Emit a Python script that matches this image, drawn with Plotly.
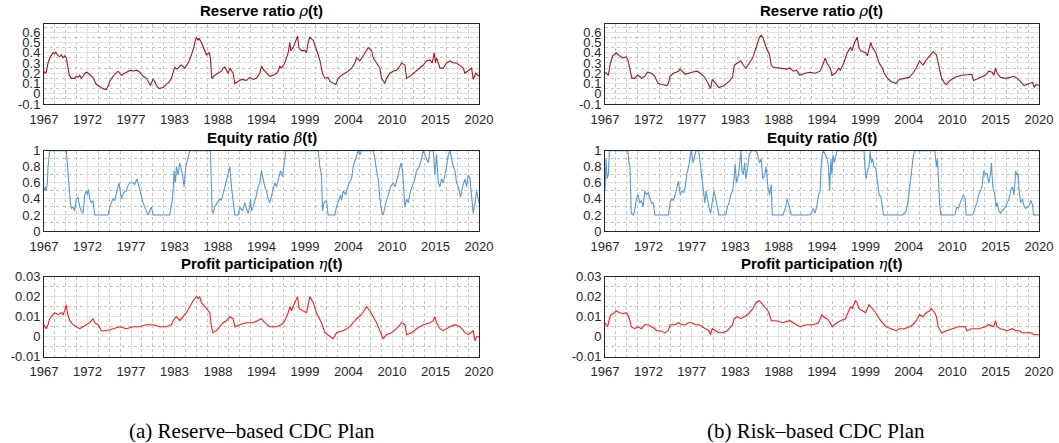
import plotly.graph_objects as go
import numpy as np

# ---------------- data (year, value) ----------------
rho_a = [(1967.0,0.22),(1967.15,0.20),(1967.28,0.21),(1967.49,0.30),(1967.7,0.35),(1967.89,0.38),(1968.1,0.40),(1968.3,0.39),(1968.42,0.41),(1968.6,0.38),(1968.91,0.36),(1969.1,0.38),(1969.32,0.35),(1969.52,0.37),(1969.72,0.35),(1969.93,0.25),(1970.1,0.18),(1970.33,0.15),(1970.74,0.15),(1970.94,0.17),(1971.15,0.16),(1971.35,0.18),(1971.55,0.15),(1971.75,0.17),(1971.96,0.20),(1972.24,0.21),(1972.49,0.19),(1972.77,0.17),(1972.97,0.16),(1973.2,0.12),(1973.38,0.09),(1973.79,0.07),(1974.19,0.05),(1974.6,0.04),(1974.8,0.07),(1975.01,0.12),(1975.2,0.15),(1975.41,0.17),(1975.62,0.19),(1976.02,0.22),(1976.23,0.20),(1976.43,0.18),(1976.83,0.20),(1977.24,0.22),(1977.53,0.23),(1977.85,0.22),(1978.26,0.23),(1978.66,0.21),(1979.07,0.17),(1979.48,0.15),(1979.68,0.12),(1979.96,0.08),(1980.29,0.14),(1980.49,0.12),(1980.7,0.08),(1981.02,0.05),(1981.51,0.06),(1981.91,0.09),(1982.32,0.12),(1982.52,0.15),(1982.73,0.20),(1982.93,0.26),(1983.14,0.24),(1983.34,0.25),(1983.54,0.27),(1983.74,0.28),(1984.15,0.25),(1984.56,0.30),(1984.84,0.35),(1985.09,0.40),(1985.25,0.45),(1985.37,0.50),(1985.57,0.55),(1985.78,0.52),(1985.9,0.54),(1986.18,0.50),(1986.47,0.45),(1986.79,0.38),(1987.12,0.40),(1987.28,0.35),(1987.44,0.15),(1987.81,0.18),(1988.21,0.20),(1988.62,0.22),(1988.82,0.25),(1989.03,0.26),(1989.43,0.20),(1989.64,0.25),(1990.04,0.20),(1990.25,0.10),(1990.65,0.12),(1991.06,0.14),(1991.67,0.13),(1992.07,0.16),(1992.48,0.14),(1992.89,0.15),(1993.29,0.20),(1993.5,0.27),(1993.7,0.24),(1994.11,0.20),(1994.51,0.17),(1994.92,0.18),(1995.33,0.20),(1995.53,0.22),(1995.73,0.27),(1995.94,0.25),(1996.34,0.30),(1996.55,0.35),(1996.75,0.40),(1996.95,0.50),(1997.07,0.42),(1997.36,0.45),(1997.56,0.50),(1997.76,0.55),(1997.89,0.56),(1998.05,0.45),(1998.37,0.42),(1998.78,0.42),(1998.98,0.40),(1999.19,0.50),(1999.39,0.55),(1999.8,0.52),(2000.12,0.45),(2000.41,0.38),(2000.69,0.30),(2000.93,0.20),(2001.22,0.15),(2001.62,0.16),(2001.83,0.12),(2002.23,0.10),(2002.56,0.09),(2002.84,0.15),(2003.25,0.18),(2003.66,0.20),(2004.06,0.22),(2004.47,0.25),(2004.88,0.30),(2005.08,0.35),(2005.49,0.32),(2005.89,0.37),(2006.3,0.42),(2006.5,0.45),(2006.91,0.42),(2007.11,0.35),(2007.52,0.30),(2007.92,0.25),(2008.13,0.15),(2008.33,0.12),(2008.53,0.10),(2008.74,0.15),(2009.14,0.20),(2009.55,0.22),(2009.96,0.23),(2010.36,0.27),(2010.57,0.30),(2010.97,0.28),(2011.18,0.15),(2011.58,0.17),(2011.99,0.20),(2012.4,0.23),(2012.8,0.25),(2013.21,0.28),(2013.61,0.32),(2014.02,0.33),(2014.3,0.30),(2014.55,0.40),(2014.7,0.30),(2014.83,0.35),(2015.04,0.30),(2015.24,0.25),(2015.65,0.25),(2016.05,0.30),(2016.46,0.32),(2016.87,0.30),(2017.27,0.30),(2017.68,0.27),(2018.08,0.25),(2018.29,0.20),(2018.6,0.22),(2018.9,0.23),(2019.1,0.25),(2019.3,0.14),(2019.6,0.20),(2020.0,0.17)]

beta_a = [(1967.0,0.50),(1967.16,0.55),(1967.28,0.50),(1967.41,0.60),(1967.49,0.80),(1967.69,1.0),(1969.72,1.0),(1969.93,0.70),(1970.21,0.35),(1970.33,0.28),(1970.54,0.30),(1970.74,0.25),(1970.94,0.40),(1971.15,0.42),(1971.35,0.30),(1971.55,0.25),(1971.75,0.22),(1971.88,0.35),(1971.96,0.45),(1972.16,0.50),(1972.28,0.45),(1972.41,0.52),(1972.57,0.40),(1972.77,0.35),(1972.97,0.38),(1973.18,0.20),(1974.80,0.20),(1975.01,0.30),(1975.21,0.35),(1975.41,0.40),(1975.62,0.38),(1975.82,0.45),(1976.02,0.55),(1976.14,0.60),(1976.31,0.45),(1976.43,0.40),(1976.71,0.48),(1977.04,0.50),(1977.16,0.55),(1977.44,0.60),(1977.85,0.60),(1978.05,0.58),(1978.34,0.65),(1978.58,0.55),(1978.66,0.50),(1978.87,0.40),(1979.07,0.35),(1979.27,0.30),(1979.48,0.25),(1979.68,0.20),(1980.09,0.30),(1980.29,0.20),(1982.32,0.20),(1982.52,0.30),(1982.65,0.40),(1982.73,0.50),(1982.85,0.75),(1983.01,0.60),(1983.13,0.80),(1983.34,0.70),(1983.54,0.85),(1983.87,0.70),(1984.07,0.55),(1984.27,0.80),(1984.56,0.90),(1984.76,1.0),(1987.28,1.0),(1987.48,0.25),(1987.60,0.22),(1987.81,0.30),(1988.09,0.35),(1988.42,0.40),(1988.62,0.38),(1988.91,0.50),(1989.23,0.60),(1989.64,0.80),(1989.84,0.55),(1990.04,0.40),(1990.25,0.20),(1990.65,0.20),(1990.86,0.30),(1991.18,0.25),(1991.47,0.35),(1991.67,0.28),(1991.87,0.22),(1992.07,0.30),(1992.16,0.40),(1992.28,0.25),(1992.48,0.30),(1992.89,0.45),(1993.09,0.55),(1993.29,0.60),(1993.50,0.75),(1993.70,0.65),(1993.90,0.55),(1994.11,0.50),(1994.31,0.40),(1994.51,0.35),(1994.84,0.50),(1995.12,0.60),(1995.33,0.55),(1995.65,0.70),(1995.81,0.75),(1996.06,0.68),(1996.26,0.80),(1996.34,0.90),(1996.46,1.0),(2000.41,1.0),(2000.61,0.80),(2000.81,0.70),(2000.93,0.25),(2001.10,0.35),(2001.42,0.38),(2001.54,0.30),(2001.62,0.20),(2002.44,0.20),(2002.64,0.30),(2002.97,0.40),(2003.13,0.45),(2003.25,0.38),(2003.45,0.50),(2003.78,0.45),(2003.86,0.50),(2004.19,0.60),(2004.47,0.65),(2004.67,0.80),(2005.00,0.90),(2005.28,1.0),(2005.49,0.95),(2005.69,1.0),(2007.11,1.0),(2007.32,0.90),(2007.52,0.75),(2007.72,0.65),(2007.92,0.40),(2008.13,0.25),(2008.33,0.20),(2008.53,0.30),(2008.94,0.45),(2009.23,0.55),(2009.55,0.60),(2009.75,0.55),(2010.04,0.65),(2010.28,0.75),(2010.49,0.85),(2010.69,0.75),(2010.85,0.50),(2010.97,0.30),(2011.18,0.40),(2011.38,0.35),(2011.66,0.50),(2011.99,0.60),(2012.19,0.65),(2012.39,0.75),(2012.72,0.80),(2013.00,0.90),(2013.21,1.0),(2013.61,0.90),(2013.82,0.85),(2014.02,1.0),(2014.43,1.0),(2014.63,0.70),(2014.83,0.95),(2015.04,0.60),(2015.24,0.55),(2015.44,0.65),(2015.65,0.60),(2016.05,0.80),(2016.26,0.95),(2016.46,1.0),(2016.66,0.90),(2016.87,0.80),(2017.07,0.75),(2017.27,0.60),(2017.48,0.55),(2017.76,0.42),(2018.00,0.55),(2018.29,0.65),(2018.49,0.55),(2018.70,0.70),(2018.90,0.65),(2019.10,0.40),(2019.30,0.22),(2019.50,0.35),(2019.71,0.50),(2020.0,0.35)]

eta_a = [(1967.0,0.006),(1967.16,0.005),(1967.28,0.004),(1967.49,0.006),(1967.69,0.009),(1967.89,0.010),(1968.30,0.012),(1968.71,0.011),(1969.11,0.012),(1969.32,0.011),(1969.52,0.013),(1969.72,0.016),(1969.85,0.012),(1970.13,0.008),(1970.33,0.007),(1970.54,0.006),(1970.94,0.005),(1971.35,0.004),(1971.75,0.005),(1972.16,0.006),(1972.57,0.007),(1972.97,0.009),(1973.18,0.007),(1973.58,0.006),(1973.79,0.004),(1973.99,0.003),(1974.60,0.003),(1975.41,0.004),(1976.23,0.005),(1977.04,0.004),(1977.85,0.005),(1978.66,0.005),(1979.48,0.006),(1980.29,0.006),(1981.10,0.005),(1981.91,0.005),(1982.52,0.006),(1982.73,0.008),(1983.13,0.010),(1983.54,0.008),(1983.95,0.010),(1984.35,0.012),(1984.76,0.015),(1985.17,0.018),(1985.57,0.020),(1985.78,0.019),(1985.98,0.020),(1986.18,0.017),(1986.59,0.015),(1987.00,0.013),(1987.20,0.012),(1987.40,0.005),(1987.60,0.002),(1988.01,0.003),(1988.42,0.005),(1988.82,0.007),(1989.23,0.008),(1989.64,0.010),(1990.04,0.009),(1990.25,0.005),(1990.86,0.006),(1991.67,0.007),(1992.48,0.007),(1993.09,0.008),(1993.50,0.009),(1993.90,0.007),(1994.51,0.005),(1995.33,0.005),(1995.94,0.006),(1996.34,0.008),(1996.75,0.012),(1996.95,0.015),(1997.16,0.013),(1997.56,0.017),(1997.89,0.020),(1998.09,0.014),(1998.58,0.013),(1998.98,0.012),(1999.39,0.020),(1999.80,0.017),(2000.20,0.012),(2000.61,0.009),(2000.81,0.007),(2001.22,0.002),(2001.83,0.000),(2002.23,-0.001),(2002.64,0.002),(2003.45,0.003),(2004.27,0.005),(2005.08,0.009),(2005.69,0.011),(2006.30,0.015),(2006.71,0.013),(2007.11,0.010),(2007.52,0.007),(2007.92,0.003),(2008.33,-0.001),(2008.74,0.001),(2009.35,0.002),(2009.96,0.004),(2010.57,0.007),(2010.97,0.006),(2011.18,0.001),(2011.79,0.002),(2012.39,0.004),(2013.21,0.006),(2014.02,0.007),(2014.43,0.008),(2014.63,0.010),(2014.83,0.007),(2015.24,0.004),(2015.65,0.003),(2016.46,0.005),(2017.07,0.006),(2017.68,0.005),(2018.29,0.002),(2018.70,0.001),(2019.30,0.003),(2019.50,-0.002),(2019.71,0.000),(2020.0,0.000)]

rho_b = [(1967.04,0.21),(1967.41,0.18),(1967.66,0.30),(1967.95,0.37),(1968.36,0.40),(1968.77,0.37),(1969.18,0.35),(1969.59,0.36),(1969.80,0.33),(1970.05,0.25),(1970.29,0.15),(1970.62,0.15),(1970.95,0.18),(1971.24,0.17),(1971.45,0.15),(1971.86,0.17),(1972.19,0.21),(1972.68,0.20),(1973.09,0.17),(1973.30,0.13),(1973.51,0.10),(1973.92,0.09),(1974.54,0.08),(1974.74,0.10),(1974.95,0.17),(1975.36,0.20),(1975.98,0.22),(1976.18,0.24),(1976.60,0.20),(1976.80,0.19),(1977.62,0.21),(1978.24,0.22),(1978.65,0.20),(1979.07,0.17),(1979.48,0.12),(1979.89,0.05),(1980.10,0.14),(1980.51,0.10),(1980.92,0.06),(1981.54,0.08),(1982.15,0.12),(1982.57,0.16),(1982.81,0.28),(1983.18,0.30),(1983.60,0.32),(1983.88,0.28),(1984.21,0.25),(1984.63,0.30),(1985.04,0.35),(1985.45,0.45),(1985.65,0.50),(1985.86,0.55),(1986.07,0.57),(1986.27,0.55),(1986.48,0.50),(1986.68,0.45),(1987.10,0.38),(1987.30,0.28),(1987.51,0.26),(1988.33,0.25),(1989.16,0.24),(1989.57,0.25),(1989.98,0.22),(1990.39,0.23),(1990.80,0.18),(1991.42,0.20),(1992.04,0.21),(1992.65,0.20),(1993.27,0.22),(1993.68,0.30),(1993.89,0.35),(1994.10,0.30),(1994.30,0.28),(1994.51,0.25),(1994.71,0.18),(1995.13,0.20),(1995.54,0.25),(1995.74,0.23),(1996.16,0.30),(1996.57,0.40),(1996.98,0.45),(1997.18,0.42),(1997.47,0.50),(1997.80,0.55),(1998.01,0.45),(1998.21,0.42),(1998.83,0.40),(1999.04,0.37),(1999.45,0.50),(1999.66,0.45),(2000.07,0.40),(2000.48,0.30),(2000.89,0.25),(2001.10,0.20),(2001.51,0.15),(2001.92,0.12),(2002.54,0.10),(2002.95,0.14),(2003.57,0.15),(2004.18,0.16),(2004.60,0.20),(2005.01,0.25),(2005.42,0.32),(2005.83,0.28),(2006.24,0.33),(2006.66,0.37),(2007.07,0.41),(2007.48,0.38),(2007.69,0.30),(2008.10,0.15),(2008.51,0.10),(2008.72,0.09),(2009.13,0.13),(2009.74,0.16),(2010.57,0.18),(2011.39,0.19),(2011.80,0.19),(2012.01,0.13),(2012.63,0.15),(2013.45,0.18),(2013.86,0.22),(2014.28,0.21),(2014.48,0.18),(2014.69,0.25),(2014.89,0.20),(2015.30,0.16),(2015.92,0.15),(2016.34,0.16),(2016.95,0.17),(2017.36,0.15),(2017.77,0.12),(2018.19,0.08),(2018.80,0.10),(2019.22,0.11),(2019.42,0.06),(2019.63,0.09),(2020.00,0.08)]

beta_b = [(1967.00,0.50),(1967.12,0.90),(1967.25,0.65),(1967.41,0.70),(1967.54,1.0),(1969.80,1.0),(1969.92,0.85),(1970.05,0.80),(1970.21,0.22),(1970.42,0.20),(1970.62,0.25),(1970.83,0.40),(1971.04,0.45),(1971.24,0.35),(1971.45,0.38),(1971.65,0.30),(1971.86,0.50),(1972.07,0.45),(1972.27,0.48),(1972.48,0.40),(1972.68,0.35),(1972.89,0.35),(1973.09,0.20),(1974.74,0.20),(1974.95,0.35),(1975.15,0.40),(1975.36,0.38),(1975.57,0.45),(1975.77,0.55),(1975.98,0.62),(1976.18,0.45),(1976.39,0.50),(1976.60,0.48),(1976.80,0.55),(1977.01,0.72),(1977.21,0.80),(1977.42,0.95),(1977.54,1.0),(1977.75,0.85),(1977.95,0.95),(1978.12,1.0),(1978.45,1.0),(1978.65,0.80),(1978.86,0.65),(1979.07,0.45),(1979.19,0.35),(1979.35,0.50),(1979.48,0.40),(1979.68,0.30),(1979.89,0.22),(1980.10,0.35),(1980.30,0.50),(1980.42,0.45),(1980.71,0.30),(1980.92,0.20),(1981.74,0.20),(1981.95,0.30),(1982.15,0.35),(1982.36,0.45),(1982.57,0.50),(1982.77,0.65),(1982.90,0.83),(1983.06,0.60),(1983.31,0.70),(1983.47,0.90),(1983.60,1.0),(1983.72,0.75),(1983.88,0.70),(1984.05,0.85),(1984.21,0.65),(1984.42,0.80),(1984.63,0.95),(1984.83,1.0),(1985.45,1.0),(1985.65,0.95),(1985.86,0.85),(1986.07,0.90),(1986.27,0.65),(1986.48,0.68),(1986.68,0.80),(1986.89,0.55),(1987.10,0.45),(1987.30,0.58),(1987.43,0.20),(1988.74,0.20),(1989.07,0.30),(1989.24,0.40),(1989.36,0.35),(1989.57,0.25),(1989.77,0.20),(1992.04,0.20),(1992.24,0.25),(1992.45,0.28),(1992.65,0.22),(1992.86,0.30),(1993.07,0.45),(1993.27,0.50),(1993.36,0.75),(1993.52,0.95),(1993.68,1.0),(1993.89,0.95),(1994.10,0.90),(1994.30,0.80),(1994.43,0.50),(1994.59,0.90),(1994.71,0.70),(1994.84,0.95),(1995.00,0.85),(1995.33,1.0),(1998.63,1.0),(1998.75,0.78),(1998.91,0.65),(1999.04,0.75),(1999.24,0.80),(1999.37,1.0),(1999.53,0.85),(1999.66,0.90),(1999.86,0.80),(2000.07,0.78),(2000.27,0.60),(2000.48,0.45),(2000.69,0.43),(2000.89,0.30),(2001.01,0.20),(2003.36,0.20),(2003.57,0.22),(2003.77,0.25),(2003.98,0.35),(2004.18,0.50),(2004.39,0.70),(2004.60,0.90),(2004.80,1.0),(2007.27,1.0),(2007.48,0.80),(2007.60,0.90),(2007.77,0.45),(2007.89,0.30),(2008.02,0.20),(2009.74,0.20),(2009.95,0.30),(2010.16,0.28),(2010.36,0.35),(2010.57,0.40),(2010.77,0.45),(2010.98,0.40),(2011.10,0.20),(2011.80,0.20),(2012.01,0.22),(2012.22,0.30),(2012.42,0.35),(2012.63,0.45),(2012.83,0.50),(2013.04,0.55),(2013.25,0.75),(2013.45,0.70),(2013.66,0.72),(2013.86,0.60),(2014.07,0.70),(2014.19,0.85),(2014.36,0.55),(2014.60,0.45),(2014.77,0.30),(2014.89,0.35),(2015.10,0.25),(2015.30,0.22),(2015.51,0.25),(2015.92,0.30),(2016.34,0.40),(2016.54,0.50),(2016.75,0.55),(2016.95,0.45),(2017.16,0.75),(2017.28,0.70),(2017.45,0.72),(2017.57,0.50),(2017.77,0.35),(2017.98,0.40),(2018.19,0.30),(2018.39,0.28),(2018.80,0.32),(2019.01,0.38),(2019.22,0.32),(2019.34,0.20),(2020.00,0.20)]

eta_b = [(1967.00,0.007),(1967.16,0.006),(1967.33,0.005),(1967.54,0.009),(1967.74,0.011),(1968.15,0.012),(1968.36,0.013),(1968.77,0.012),(1969.18,0.0115),(1969.59,0.012),(1969.80,0.011),(1970.05,0.008),(1970.21,0.005),(1970.62,0.004),(1971.04,0.005),(1971.45,0.004),(1971.86,0.006),(1972.27,0.006),(1972.68,0.005),(1973.09,0.004),(1973.30,0.003),(1973.71,0.003),(1974.33,0.002),(1974.74,0.003),(1974.95,0.006),(1975.57,0.006),(1975.98,0.007),(1976.39,0.006),(1976.80,0.006),(1977.21,0.007),(1977.62,0.007),(1978.03,0.006),(1978.45,0.006),(1978.86,0.005),(1979.27,0.004),(1979.68,0.003),(1979.89,0.001),(1980.10,0.004),(1980.51,0.003),(1980.92,0.002),(1981.33,0.002),(1981.95,0.003),(1982.36,0.005),(1982.57,0.006),(1982.77,0.009),(1983.18,0.010),(1983.60,0.009),(1984.01,0.010),(1984.42,0.011),(1985.04,0.014),(1985.45,0.017),(1985.86,0.018),(1986.07,0.017),(1986.48,0.015),(1986.89,0.013),(1987.10,0.011),(1987.30,0.008),(1987.92,0.008),(1988.74,0.007),(1989.57,0.008),(1990.39,0.006),(1990.80,0.005),(1991.62,0.006),(1992.45,0.006),(1993.07,0.007),(1993.48,0.011),(1993.68,0.010),(1994.10,0.009),(1994.51,0.007),(1994.71,0.005),(1995.33,0.007),(1995.74,0.008),(1996.36,0.009),(1996.77,0.013),(1996.98,0.015),(1997.18,0.014),(1997.59,0.018),(1997.80,0.017),(1998.01,0.014),(1998.42,0.013),(1998.83,0.012),(1999.24,0.016),(1999.66,0.014),(2000.07,0.012),(2000.48,0.009),(2000.89,0.007),(2001.30,0.005),(2001.92,0.004),(2002.54,0.003),(2002.95,0.004),(2003.57,0.004),(2004.18,0.005),(2004.60,0.006),(2005.01,0.008),(2005.42,0.011),(2005.83,0.010),(2006.24,0.012),(2006.66,0.013),(2006.86,0.014),(2007.27,0.012),(2007.48,0.010),(2007.69,0.005),(2008.10,0.002),(2008.72,0.003),(2009.33,0.004),(2010.16,0.005),(2010.98,0.005),(2011.19,0.003),(2011.80,0.004),(2012.63,0.004),(2013.45,0.005),(2013.86,0.006),(2014.48,0.005),(2014.69,0.008),(2014.89,0.005),(2015.30,0.004),(2016.13,0.003),(2016.75,0.004),(2017.16,0.003),(2017.57,0.003),(2017.98,0.002),(2018.60,0.002),(2019.01,0.002),(2019.42,0.001),(2020.00,0.001)]

x_ticktext = ["1967", "1972", "1977", "1983", "1988", "1994", "1999", "2004", "2010", "2015", "2020"]
rho_ticks = [-0.1, 0, 0.1, 0.2, 0.3, 0.4, 0.5, 0.6]
rho_ticktext = ["-0.1", "0", "0.1", "0.2", "0.3", "0.4", "0.5", "0.6"]
beta_ticks = [0, 0.2, 0.4, 0.6, 0.8, 1]
beta_ticktext = ["0", "0.2", "0.4", "0.6", "0.8", "1"]
eta_ticks = [-0.01, 0, 0.01, 0.02, 0.03]
eta_ticktext = ["-0.01", "0", "0.01", "0.02", "0.03"]

titles = ["Reserve ratio ", "Equity ratio ", "Profit participation "]
greek = ["ρ", "β", "η"]
captions = ["(a) Reserve–based CDC Plan", "(b) Risk–based CDC Plan"]

# ---------------- layout geometry ----------------
W, H = 1059, 443
col_px = [(44, 479), (605, 1039)]
row_px = [(24, 104), (150.7, 231), (276.7, 356.7)]
yranges = [(-0.1, 0.68), (0, 1), (-0.01, 0.03)]
yticks = [(rho_ticks, rho_ticktext, 0.05), (beta_ticks, beta_ticktext, 0.1), (eta_ticks, eta_ticktext, 0.005)]
colors = ["#a3171f", "#5599d8", "#ff1a1a"]
series = [[rho_a, beta_a, eta_a], [rho_b, beta_b, eta_b]]

x0, x1 = 1967.0, 2020.0
xmaj = list(np.linspace(x0, x1, 11))
step = (x1 - x0) / 10
xmin = [x0 + step * i + step * k / 4 for i in range(10) for k in (1, 2, 3)]

AX = "#262626"
GRID = "#e2e2e2"
MGRID = "#c4c4c4"
FONT = "Liberation Sans, Arial, Helvetica, sans-serif"

fig = go.Figure()
annotations = []
n = 0
for c in range(2):
    for r in range(3):
        n += 1
        sfx = "" if n == 1 else str(n)
        data = series[c][r]
        fig.add_trace(go.Scatter(
            x=[p[0] for p in data], y=[p[1] for p in data], mode="lines",
            line=dict(color=colors[r], width=1.1), showlegend=False,
            xaxis="x" + sfx, yaxis="y" + sfx, hoverinfo="skip"))
        xd = [col_px[c][0] / W, col_px[c][1] / W]
        yd = [1 - row_px[r][1] / H, 1 - row_px[r][0] / H]
        tv, tt, mstep = yticks[r]
        lo, hi = yranges[r]
        ymin = [v for v in np.arange(lo, hi + 1e-9, mstep)]
        fig.layout["xaxis" + sfx] = dict(
            domain=xd, anchor="y" + sfx, range=[x0, x1], automargin=False,
            tickvals=xmaj, ticktext=x_ticktext, ticks="", ticklabelstandoff=3,
            showline=True, mirror=True, linecolor=AX, linewidth=1,
            showgrid=True, gridcolor=GRID, gridwidth=1, zeroline=False,
            tickfont=dict(family=FONT, size=13, color=AX),
            minor=dict(tickvals=xmin, showgrid=True, gridcolor=MGRID, griddash="dot", gridwidth=1, ticks=""),
        )
        fig.layout["yaxis" + sfx] = dict(
            domain=yd, anchor="x" + sfx, range=[lo, hi], automargin=False,
            tickvals=tv, ticktext=tt, ticks="",
            showline=True, mirror=True, linecolor=AX, linewidth=1,
            showgrid=True, gridcolor=GRID, gridwidth=1, zeroline=False,
            tickfont=dict(family=FONT, size=13, color=AX),
            minor=dict(tickvals=ymin, showgrid=True, gridcolor=MGRID, griddash="dot", gridwidth=1, ticks=""),
        )
        annotations.append(dict(
            x=(xd[0] + xd[1]) / 2, y=yd[1], xref="paper", yref="paper",
            xanchor="center", yanchor="bottom", yshift=2, showarrow=False,
            text="<b>" + titles[r] + "</b><span style='font-family:DejaVu Serif'><i>" + greek[r] + "</i></span><b>(t)</b>",
            font=dict(family=FONT, size=15, color="#000000")))

for c in range(2):
    annotations.append(dict(
        x=(252 if c == 0 else 816) / W, y=1 - 431 / H, xref="paper", yref="paper",
        xanchor="center", yanchor="middle", showarrow=False, text=captions[c],
        font=dict(family="Liberation Serif, DejaVu Serif, serif", size=21, color="#000000")))

fig.update_layout(
    width=W, height=H, margin=dict(l=0, r=0, t=0, b=0, autoexpand=False),
    paper_bgcolor="white", plot_bgcolor="white",
    annotations=annotations, showlegend=False,
)
fig.write_html("out.html")
